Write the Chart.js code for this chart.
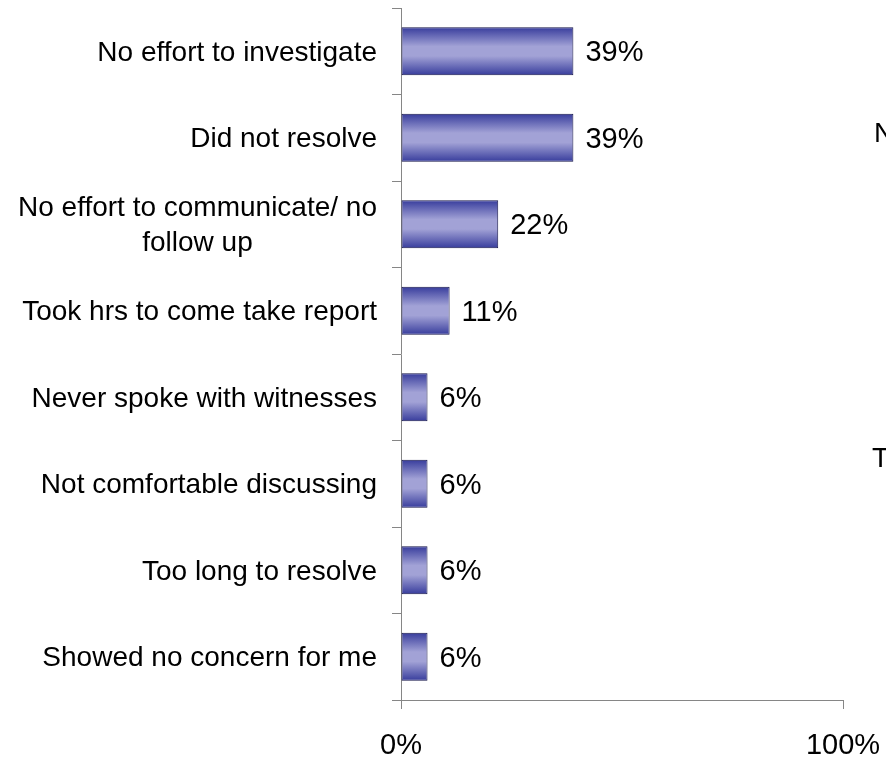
<!DOCTYPE html>
<html>
<head>
<meta charset="utf-8">
<title>Reasons for dissatisfaction</title>
<script src="https://cdn.jsdelivr.net/npm/chart.js@4.4.0/dist/chart.umd.min.js"></script>
<style>
    html, body {
        margin: 0;
        padding: 0;
        background: #ffffff;
        overflow: hidden;
    }
    #chart-wrap {
        position: relative;
        width: 886px;
        height: 759px;
    }
    .side-note {
        position: absolute;
        font-family: "Liberation Sans", Arial, sans-serif;
        font-size: 28px;
        line-height: 28px;
        color: #000000;
        white-space: nowrap;
    }
</style>
</head>
<body>
<div id="chart-wrap">
    <canvas id="reasons-chart" width="886" height="759"></canvas>
    <span class="side-note" style="left: 874px; top: 119px;">N</span>
    <span class="side-note" style="left: 872px; top: 444px;">T</span>
</div>
<script>
// Reasons given, top to bottom
const categories = [
    'No effort to investigate',
    'Did not resolve',
    ['No effort to communicate/ no', 'follow up'],
    'Took hrs to come take report',
    'Never spoke with witnesses',
    'Not comfortable discussing',
    'Too long to resolve',
    'Showed no concern for me'
];

// Share of respondents (%)
const percentages = [39, 39, 22, 11, 6, 6, 6, 6];

// Value axis ticks (%)
const xTickValues = [0, 100];

const FONT_FAMILY = '"Liberation Sans", Arial, sans-serif';
const AXIS_COLOR = '#868686';
const BAR_CATEGORY_PCT = 0.555;
const TICK_LEN = 9;
// 'middle' baseline sits a little high for Liberation Sans caps
const TEXT_NUDGE = 2;

class ReasonsChart {
    constructor() {
        this.canvas = document.getElementById('reasons-chart');
        this.chart = null;
    }

    initialize() {
        this.chart = new Chart(this.canvas.getContext('2d'), {
            type: 'bar',
            data: {
                labels: categories,
                datasets: [{
                    data: percentages,
                    backgroundColor: (ctx) => this.barGradient(ctx),
                    borderColor: '#15154a',
                    borderWidth: 1,
                    borderSkipped: false,
                    categoryPercentage: BAR_CATEGORY_PCT,
                    barPercentage: 1
                }]
            },
            options: {
                indexAxis: 'y',
                responsive: false,
                animation: false,
                layout: {
                    padding: { top: 8, right: 43, bottom: 0, left: 0 }
                },
                plugins: {
                    legend: { display: false },
                    tooltip: { enabled: false }
                },
                scales: {
                    x: {
                        min: 0,
                        max: 100,
                        afterBuildTicks: (scale) => {
                            scale.ticks = xTickValues.map(v => ({ value: v }));
                        },
                        afterFit: (scale) => {
                            scale.height = 59;
                            scale.paddingLeft = 0;
                            scale.paddingRight = 0;
                        },
                        ticks: {
                            callback: (v) => v + '%',
                            color: '#000000',
                            padding: 20,
                            maxRotation: 0,
                            font: { family: FONT_FAMILY, size: 29 }
                        },
                        grid: {
                            drawOnChartArea: false,
                            tickLength: TICK_LEN,
                            color: AXIS_COLOR
                        },
                        border: { color: AXIS_COLOR, width: 1 }
                    },
                    y: {
                        afterFit: (scale) => {
                            scale.width = 401;
                            scale.paddingTop = 0;
                            scale.paddingBottom = 0;
                        },
                        // category names are drawn by the categoryLabels plugin
                        ticks: { display: false },
                        grid: {
                            offset: true,
                            drawOnChartArea: false,
                            tickLength: TICK_LEN,
                            color: AXIS_COLOR
                        },
                        border: { color: AXIS_COLOR, width: 1 }
                    }
                }
            },
            plugins: [this.categoryLabelPlugin(), this.valueLabelPlugin()]
        });
    }

    /**
     * Vertical shading: deep blue at the top and bottom edges, pale lavender in the middle
     */
    barGradient(ctx) {
        const chart = ctx.chart;
        const yScale = chart.scales.y;
        const fallback = '#8f90cc';
        if (!yScale || ctx.dataIndex === undefined) {
            return fallback;
        }
        const band = (yScale.bottom - yScale.top) / categories.length;
        const half = band * BAR_CATEGORY_PCT / 2;
        const center = yScale.getPixelForValue(ctx.dataIndex);
        if (!isFinite(center) || !isFinite(half) || half <= 0) {
            return fallback;
        }
        const g = chart.ctx.createLinearGradient(0, center - half, 0, center + half);
        g.addColorStop(0, '#373c9c');
        g.addColorStop(0.4, '#a2a2d6');
        g.addColorStop(0.6, '#a2a2d6');
        g.addColorStop(1, '#373c9c');
        return g;
    }

    /**
     * Category names, right-aligned as a block; wrapped lines are centred on each other
     */
    categoryLabelPlugin() {
        return {
            id: 'categoryLabels',
            afterDraw(chart) {
                const ctx = chart.ctx;
                const yScale = chart.scales.y;
                const right = yScale.right - TICK_LEN - 15;
                const lineHeight = 35;
                ctx.save();
                ctx.font = '28px ' + FONT_FAMILY;
                ctx.fillStyle = '#000000';
                ctx.textAlign = 'center';
                ctx.textBaseline = 'middle';
                categories.forEach((label, i) => {
                    const lines = Array.isArray(label) ? label : [label];
                    const widest = Math.max(...lines.map(l => ctx.measureText(l).width));
                    const cx = right - widest / 2;
                    const y0 = yScale.getPixelForValue(i) + TEXT_NUDGE - (lines.length - 1) * lineHeight / 2;
                    lines.forEach((line, k) => {
                        ctx.fillText(line, cx, y0 + k * lineHeight);
                    });
                });
                ctx.restore();
            }
        };
    }

    /**
     * Percentage text to the right of each bar
     */
    valueLabelPlugin() {
        return {
            id: 'valueLabels',
            afterDatasetsDraw(chart) {
                const ctx = chart.ctx;
                const meta = chart.getDatasetMeta(0);
                ctx.save();
                ctx.font = '29px ' + FONT_FAMILY;
                ctx.fillStyle = '#000000';
                ctx.textAlign = 'left';
                ctx.textBaseline = 'middle';
                meta.data.forEach((bar, i) => {
                    ctx.fillText(percentages[i] + '%', bar.x + 12, bar.y + TEXT_NUDGE);
                });
                ctx.restore();
            }
        };
    }
}

const reasonsChart = new ReasonsChart();
reasonsChart.initialize();
</script>
</body>
</html>
